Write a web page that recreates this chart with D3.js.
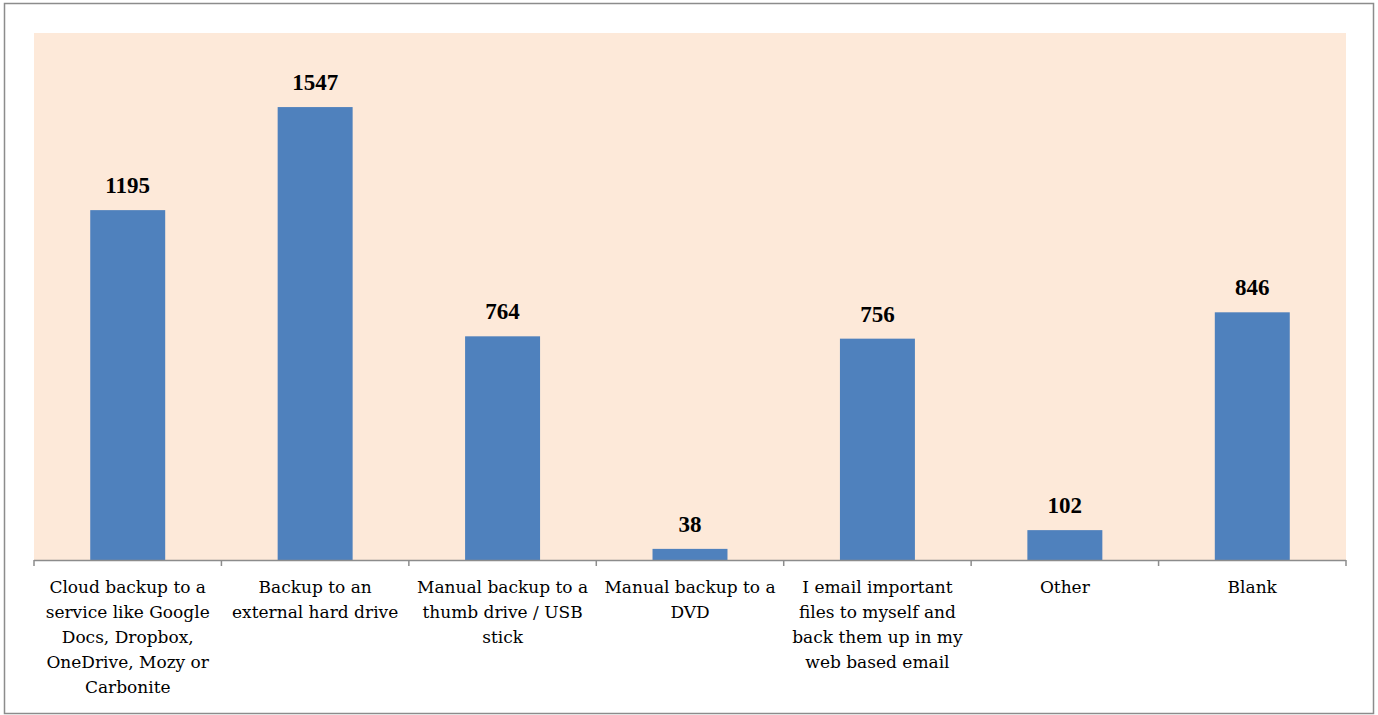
<!DOCTYPE html>
<html><head><meta charset="utf-8">
<script src="https://cdn.jsdelivr.net/npm/d3@7"></script>
<style>body{margin:0;background:#fff}svg{display:block}</style>
</head><body>
<svg id="c" width="1378" height="715"></svg>
<script>
const categories = [
  "Cloud backup to a|service like Google|Docs, Dropbox,|OneDrive, Mozy or|Carbonite",
  "Backup to an|external hard drive",
  "Manual backup to a|thumb drive / USB|stick",
  "Manual backup to a|DVD",
  "I email important|files to myself and|back them up in my|web based email",
  "Other",
  "Blank"
];
const values = [1195, 1547, 764, 38, 756, 102, 846];
const yDomain = [0, 1800];

const svg = d3.select("#c");
const M = {left: 34, right: 1346, top: 33, bottom: 560};
const font = "'DejaVu Serif', serif";

svg.append("rect").attr("x", 4.5).attr("y", 3.5).attr("width", 1369).attr("height", 710)
  .attr("fill", "#fff").attr("stroke", "#8c8c8c").attr("stroke-width", 1.5);

svg.append("rect").attr("x", M.left).attr("y", M.top)
  .attr("width", M.right - M.left).attr("height", M.bottom - M.top).attr("fill", "#FDE9D9");

const x = d3.scaleBand().domain(d3.range(categories.length)).range([M.left, M.right]).paddingInner(0).paddingOuter(0);
const y = d3.scaleLinear().domain(yDomain).range([M.bottom, M.top]);
const bw = x.bandwidth() * 0.4;

svg.selectAll("rect.bar").data(values).join("rect").attr("class", "bar")
  .attr("x", (d, i) => x(i) + (x.bandwidth() - bw) / 2)
  .attr("width", bw)
  .attr("y", d => y(d))
  .attr("height", d => y(0) - y(d))
  .attr("fill", "#4F81BD");

svg.selectAll("text.val").data(values).join("text").attr("class", "val")
  .attr("x", (d, i) => x(i) + x.bandwidth() / 2)
  .attr("y", d => y(d) - 17)
  .attr("text-anchor", "middle")
  .attr("font-family", "'Liberation Serif', serif").attr("font-weight", "bold").attr("font-size", 23)
  .attr("fill", "#000").text(d => d);

// axis
const axisG = svg.append("g").attr("transform", `translate(0,${M.bottom})`);
axisG.append("line").attr("x1", M.left).attr("x2", M.right).attr("y1", 0.5).attr("y2", 0.5)
  .attr("stroke", "#8c8c8c").attr("stroke-width", 1.5);
const tickPos = d3.range(categories.length + 1).map(i => i < categories.length ? x(i) : M.right);
axisG.selectAll("line.tk").data(tickPos).join("line").attr("class", "tk")
  .attr("x1", d => d).attr("x2", d => d).attr("y1", 0).attr("y2", 6)
  .attr("stroke", "#8c8c8c").attr("stroke-width", 1.5);

const lab = svg.selectAll("text.cat").data(categories).join("text").attr("class", "cat")
  .attr("text-anchor", "middle")
  .attr("font-family", font).attr("font-size", 17).attr("fill", "#000");
lab.each(function(d, i) {
  const t = d3.select(this);
  d.split("|").forEach((line, j) => {
    t.append("tspan").attr("x", x(i) + x.bandwidth() / 2).attr("y", 593 + j * 25).text(line);
  });
});
</script>
</body></html>
